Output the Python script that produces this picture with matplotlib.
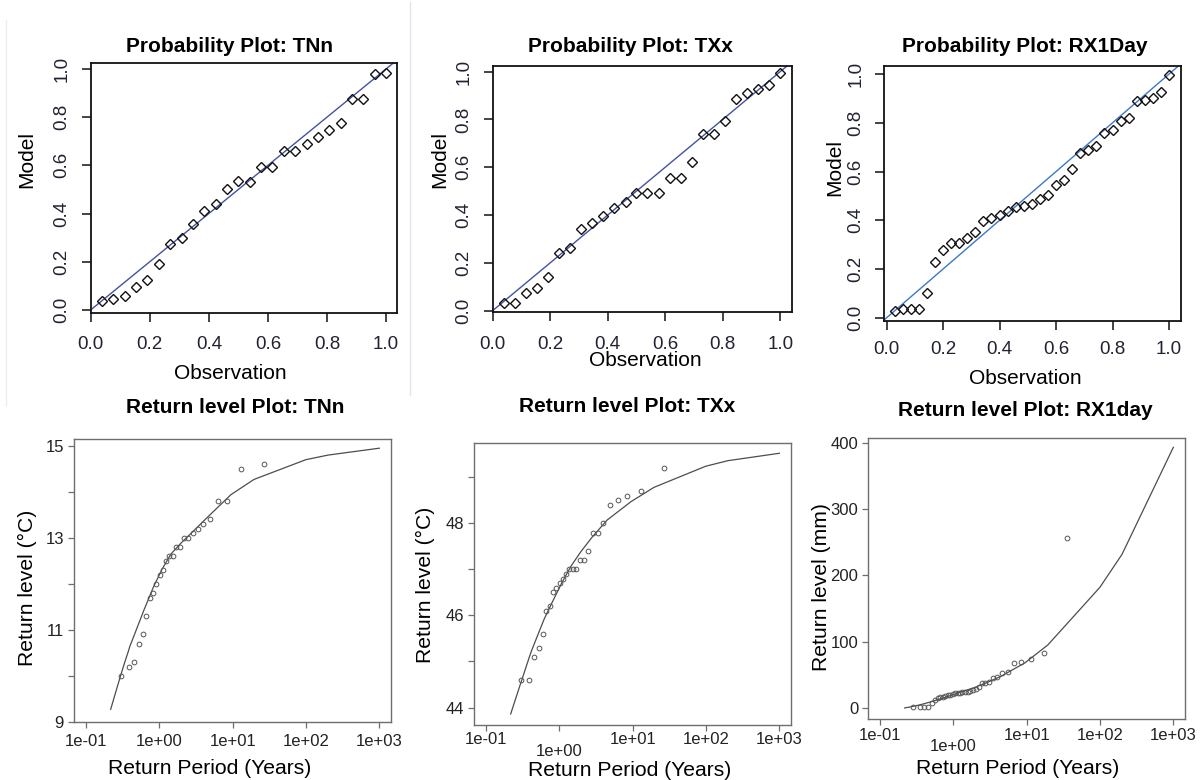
import matplotlib
matplotlib.use("Agg")
import matplotlib.pyplot as plt
from matplotlib.ticker import NullLocator
from matplotlib.lines import Line2D

W, H = 1204, 780
plt.rcParams['font.family'] = ['Liberation Sans', 'DejaVu Sans']
fig = plt.figure(figsize=(W / 100, H / 100), dpi=100)

# ---------------- data: probability plots ----------------
tnn_obs = [0.038, 0.077, 0.115, 0.154, 0.192, 0.231, 0.269, 0.308, 0.346, 0.385, 0.423, 0.462, 0.500,
           0.538, 0.577, 0.615, 0.654, 0.692, 0.731, 0.769, 0.808, 0.846, 0.885, 0.923, 0.962, 1.000]
tnn_model = [0.035, 0.046, 0.058, 0.097, 0.124, 0.191, 0.272, 0.300, 0.357, 0.411, 0.440, 0.501, 0.535,
             0.532, 0.595, 0.595, 0.660, 0.660, 0.687, 0.716, 0.747, 0.776, 0.874, 0.874, 0.979, 0.985]

txx_obs = [0.038, 0.077, 0.115, 0.154, 0.192, 0.231, 0.269, 0.308, 0.346, 0.385, 0.423, 0.462, 0.500,
           0.538, 0.577, 0.615, 0.654, 0.692, 0.731, 0.769, 0.808, 0.846, 0.885, 0.923, 0.962, 1.000]
txx_model = [0.033, 0.033, 0.073, 0.095, 0.139, 0.243, 0.262, 0.340, 0.368, 0.397, 0.431, 0.456, 0.491,
             0.491, 0.491, 0.554, 0.554, 0.621, 0.738, 0.738, 0.794, 0.887, 0.909, 0.926, 0.943, 0.993]

rx_obs = [0.029, 0.057, 0.086, 0.114, 0.143, 0.171, 0.200, 0.229, 0.257, 0.286, 0.314, 0.343, 0.371,
          0.400, 0.429, 0.457, 0.486, 0.514, 0.543, 0.571, 0.600, 0.629, 0.657, 0.686, 0.714, 0.743,
          0.771, 0.800, 0.829, 0.857, 0.886, 0.914, 0.943, 0.971, 1.000]
rx_model = [0.029, 0.034, 0.034, 0.034, 0.100, 0.228, 0.278, 0.305, 0.305, 0.327, 0.350, 0.398, 0.410,
            0.421, 0.438, 0.453, 0.458, 0.468, 0.487, 0.503, 0.544, 0.565, 0.609, 0.674, 0.687, 0.705,
            0.759, 0.770, 0.808, 0.818, 0.889, 0.893, 0.903, 0.925, 0.997]

# ---------------- data: return level plots ----------------
rl_period = [0.217, 0.256, 0.285, 0.311, 0.334, 0.355, 0.376, 0.396, 0.415, 0.434, 0.621, 0.831,
             1.091, 1.443, 1.958, 2.804, 4.48, 9.49, 19.5, 99.5, 199.5, 999.5]
tnn_rl_line = [9.27, 9.66, 9.91, 10.11, 10.27, 10.40, 10.52, 10.64, 10.72, 10.80, 11.44, 11.93,
               12.32, 12.65, 12.88, 13.12, 13.44, 13.94, 14.27, 14.70, 14.80, 14.95]
txx_rl_line = [43.86, 44.21, 44.44, 44.62, 44.77, 44.90, 45.02, 45.13, 45.22, 45.30, 45.92, 46.34,
               46.72, 47.07, 47.38, 47.70, 48.07, 48.47, 48.78, 49.24, 49.36, 49.52]
rx_rl_line = [-0.5, 1.0, 2.0, 2.9, 3.7, 4.4, 5.1, 5.8, 6.4, 7.0, 12.0, 16.6,
              21.2, 25.6, 30.5, 37.4, 47.5, 67.8, 95.0, 182.0, 232.0, 394.0]

t26_period = [0.303, 0.384, 0.455, 0.524, 0.593, 0.665, 0.741, 0.822, 0.910, 1.007, 1.114, 1.233, 1.368,
              1.523, 1.701, 1.911, 2.162, 2.466, 2.846, 3.332, 3.979, 4.883, 6.237, 8.491, 12.99, 26.50]
tnn_rl_obs = [10.0, 10.2, 10.3, 10.7, 10.9, 11.3, 11.7, 11.8, 12.0, 12.2, 12.3, 12.5, 12.6,
              12.6, 12.8, 12.8, 13.0, 13.0, 13.1, 13.2, 13.3, 13.4, 13.8, 13.8, 14.5, 14.6]
txx_rl_obs = [44.6, 44.6, 45.1, 45.3, 45.6, 46.1, 46.2, 46.5, 46.6, 46.7, 46.8, 46.9, 47.0,
              47.0, 47.0, 47.2, 47.2, 47.4, 47.8, 47.8, 48.0, 48.4, 48.5, 48.6, 48.7, 49.2]
rx_period = [0.279, 0.346, 0.402, 0.455, 0.507, 0.558, 0.611, 0.665, 0.721, 0.781, 0.843, 0.910,
             0.982, 1.059, 1.142, 1.233, 1.332, 1.443, 1.566, 1.701, 1.855, 2.031, 2.232, 2.466,
             2.742, 3.073, 3.476, 3.979, 4.628, 5.485, 6.685, 8.491, 11.49, 17.50, 35.50]
rx_rl_obs = [1.5, 1.5, 1.5, 0.8, 6.6, 12.0, 14.0, 15.6, 16.6, 17.6, 18.7, 19.7,
             20.7, 21.7, 22.2, 22.7, 23.2, 23.7, 24.2, 25.2, 26.7, 28.8, 31.8, 36.8,
             37.8, 38.5, 44.5, 46.0, 51.8, 53.5, 68.0, 69.0, 73.6, 82.0, 257.0]

prob_ticks = [0.0, 0.2, 0.4, 0.6, 0.8, 1.0]
prob_ticklabels = ['0.0', '0.2', '0.4', '0.6', '0.8', '1.0']
rp_ticks = [0.1, 1, 10, 100, 1000]
rp_ticklabels = ['1e-01', '1e+00', '1e+01', '1e+02', '1e+03']


def add_ax(box):
    l, t, r, b = box
    return fig.add_axes([l / W, 1 - b / H, (r - l) / W, (b - t) / H])


def to_axes(box, px, py):
    l, t, r, b = box
    return (px - l) / (r - l), (b - py) / (b - t)


TICK_FONT_TOP = ['Liberation Sans Narrow', 'Liberation Sans', 'DejaVu Sans']

# ---------------- top row ----------------
top = [
    dict(box=(90.7, 62.7, 396.7, 313.3), xlim=(0.0, 1.036), ylim=(-0.014, 1.026),
         obs=tnn_obs, mod=tnn_model, col='#4352a2', title='Probability Plot: TNn',
         title_px=(230, 46), ylab_px=(27, 160), xlab_px=(230, 374), xpad=9.5),
    dict(box=(492.7, 65.7, 791.7, 312.3), xlim=(0.0, 1.04), ylim=(-0.007, 1.025),
         obs=txx_obs, mod=txx_model, col='#4352a2', title='Probability Plot: TXx',
         title_px=(630, 46), ylab_px=(440, 160), xlab_px=(645, 361), xpad=10.5),
    dict(box=(884.3, 65.7, 1180.7, 320.7), xlim=(-0.008, 1.041), ylim=(-0.012, 1.034),
         obs=rx_obs, mod=rx_model, col='#3b78c9', title='Probability Plot: RX1Day',
         title_px=(1025, 46), ylab_px=(835, 167), xlab_px=(1025, 378), xpad=8.0),
]

for p in top:
    ax = add_ax(p['box'])
    ax.set_xlim(*p['xlim'])
    ax.set_ylim(*p['ylim'])
    ax.axline((0, 0), slope=1, color=p['col'], lw=1.0, zorder=2)
    ax.plot(p['obs'], p['mod'], linestyle='none', marker='D', markersize=4.6,
            markerfacecolor='none', markeredgecolor='#111111', markeredgewidth=1.0, zorder=3)
    for s in ax.spines.values():
        s.set_linewidth(1.3)
        s.set_color('#111111')
    ax.set_xticks(prob_ticks)
    ax.set_xticklabels(prob_ticklabels)
    ax.set_yticks(prob_ticks)
    ax.set_yticklabels(prob_ticklabels, rotation=90, va='center')
    ax.tick_params(axis='both', direction='out', length=6.5, width=1.1, color='#111111',
                   labelsize=13.5, labelcolor='#222233')
    ax.tick_params(axis='x', pad=p['xpad'])
    ax.tick_params(axis='y', pad=8)
    for lab in ax.get_xticklabels() + ax.get_yticklabels():
        lab.set_family(TICK_FONT_TOP)
    tx, ty = to_axes(p['box'], *p['title_px'])
    ax.set_title(p['title'], x=tx, y=ty, pad=0, va='center', ha='center',
                 fontsize=15, fontweight='bold')
    ax.set_xlabel('Observation', fontsize=15, va='center', ha='center')
    ax.xaxis.set_label_coords(*to_axes(p['box'], *p['xlab_px']))
    ax.set_ylabel('Model', fontsize=15, va='center', ha='center')
    ax.yaxis.set_label_coords(*to_axes(p['box'], *p['ylab_px']))

# ---------------- bottom row ----------------
bottom = [
    dict(box=(74, 439, 390.7, 721.7), xlim=(0.0686, 1429), ylim=(9.0, 15.15),
         px=t26_period, obs=tnn_rl_obs, line=tnn_rl_line, yticks=[9, 10, 11, 12, 13, 14, 15],
         ylabels=['9', '', '11', '', '13', '', '15'], ylab='Return level (°C)',
         title='Return level Plot: TNn', title_px=(235, 407), ylab_px=(27, 588),
         xlab_px=(210, 768), xpad=5.0, low=None),
    dict(box=(474, 442.7, 790.7, 725), xlim=(0.0686, 1429), ylim=(43.62, 49.75),
         px=t26_period, obs=txx_rl_obs, line=txx_rl_line, yticks=[44, 45, 46, 47, 48, 49],
         ylabels=['44', '', '46', '', '48', ''], ylab='Return level (°C)',
         title='Return level Plot: TXx', title_px=(627, 407), ylab_px=(425, 585),
         xlab_px=(630, 770), xpad=1.2, low=8.0),
    dict(box=(868.3, 437.7, 1185, 719.3), xlim=(0.0693, 1442), ylim=(-17.7, 408.6),
         px=rx_period, obs=rx_rl_obs, line=rx_rl_line, yticks=[0, 100, 200, 300, 400],
         ylabels=['0', '100', '200', '300', '400'], ylab='Return level (mm)',
         title='Return level Plot: RX1day', title_px=(1025, 411), ylab_px=(822, 587),
         xlab_px=(1018, 768), xpad=2.2, low=8.0),
]

for p in bottom:
    ax = add_ax(p['box'])
    ax.set_xscale('log')
    ax.set_xlim(*p['xlim'])
    ax.set_ylim(*p['ylim'])
    ax.plot(rl_period, p['line'], color='#4d4d4d', lw=0.9, zorder=2)
    ax.plot(p['px'], p['obs'], linestyle='none', marker='o', markersize=3.4,
            markerfacecolor='none', markeredgecolor='#555555', markeredgewidth=0.7, zorder=3)
    for s in ax.spines.values():
        s.set_linewidth(1.0)
        s.set_color('#6e6e6e')
    ax.set_xticks(rp_ticks)
    ax.set_xticklabels(rp_ticklabels)
    ax.xaxis.set_minor_locator(NullLocator())
    ax.set_yticks(p['yticks'])
    ax.set_yticklabels(p['ylabels'])
    ax.tick_params(axis='both', direction='out', length=4.2, width=0.9, color='#6e6e6e',
                   labelsize=12, labelcolor='#222222')
    ax.tick_params(axis='x', pad=p['xpad'])
    ax.tick_params(axis='y', pad=3)
    if p['low'] is not None:
        ax.xaxis.get_major_ticks()[1].set_pad(p['xpad'] + p['low'])
    tx, ty = to_axes(p['box'], *p['title_px'])
    ax.set_title(p['title'], x=tx, y=ty, pad=0, va='center', ha='center',
                 fontsize=15, fontweight='bold')
    ax.set_xlabel('Return Period (Years)', fontsize=15.2, va='center', ha='center')
    ax.xaxis.set_label_coords(*to_axes(p['box'], *p['xlab_px']))
    ax.set_ylabel(p['ylab'], fontsize=15.2, va='center', ha='center')
    ax.yaxis.set_label_coords(*to_axes(p['box'], *p['ylab_px']))

# faint screenshot separators
fig.add_artist(Line2D([410 / W, 410 / W], [1 - 2 / H, 1 - 395 / H], color='#dfe5ee', lw=1.0))
fig.add_artist(Line2D([6 / W, 6 / W], [1 - 20 / H, 1 - 405 / H], color='#eeeeee', lw=1.0))

fig.savefig('out.png', dpi=100)
